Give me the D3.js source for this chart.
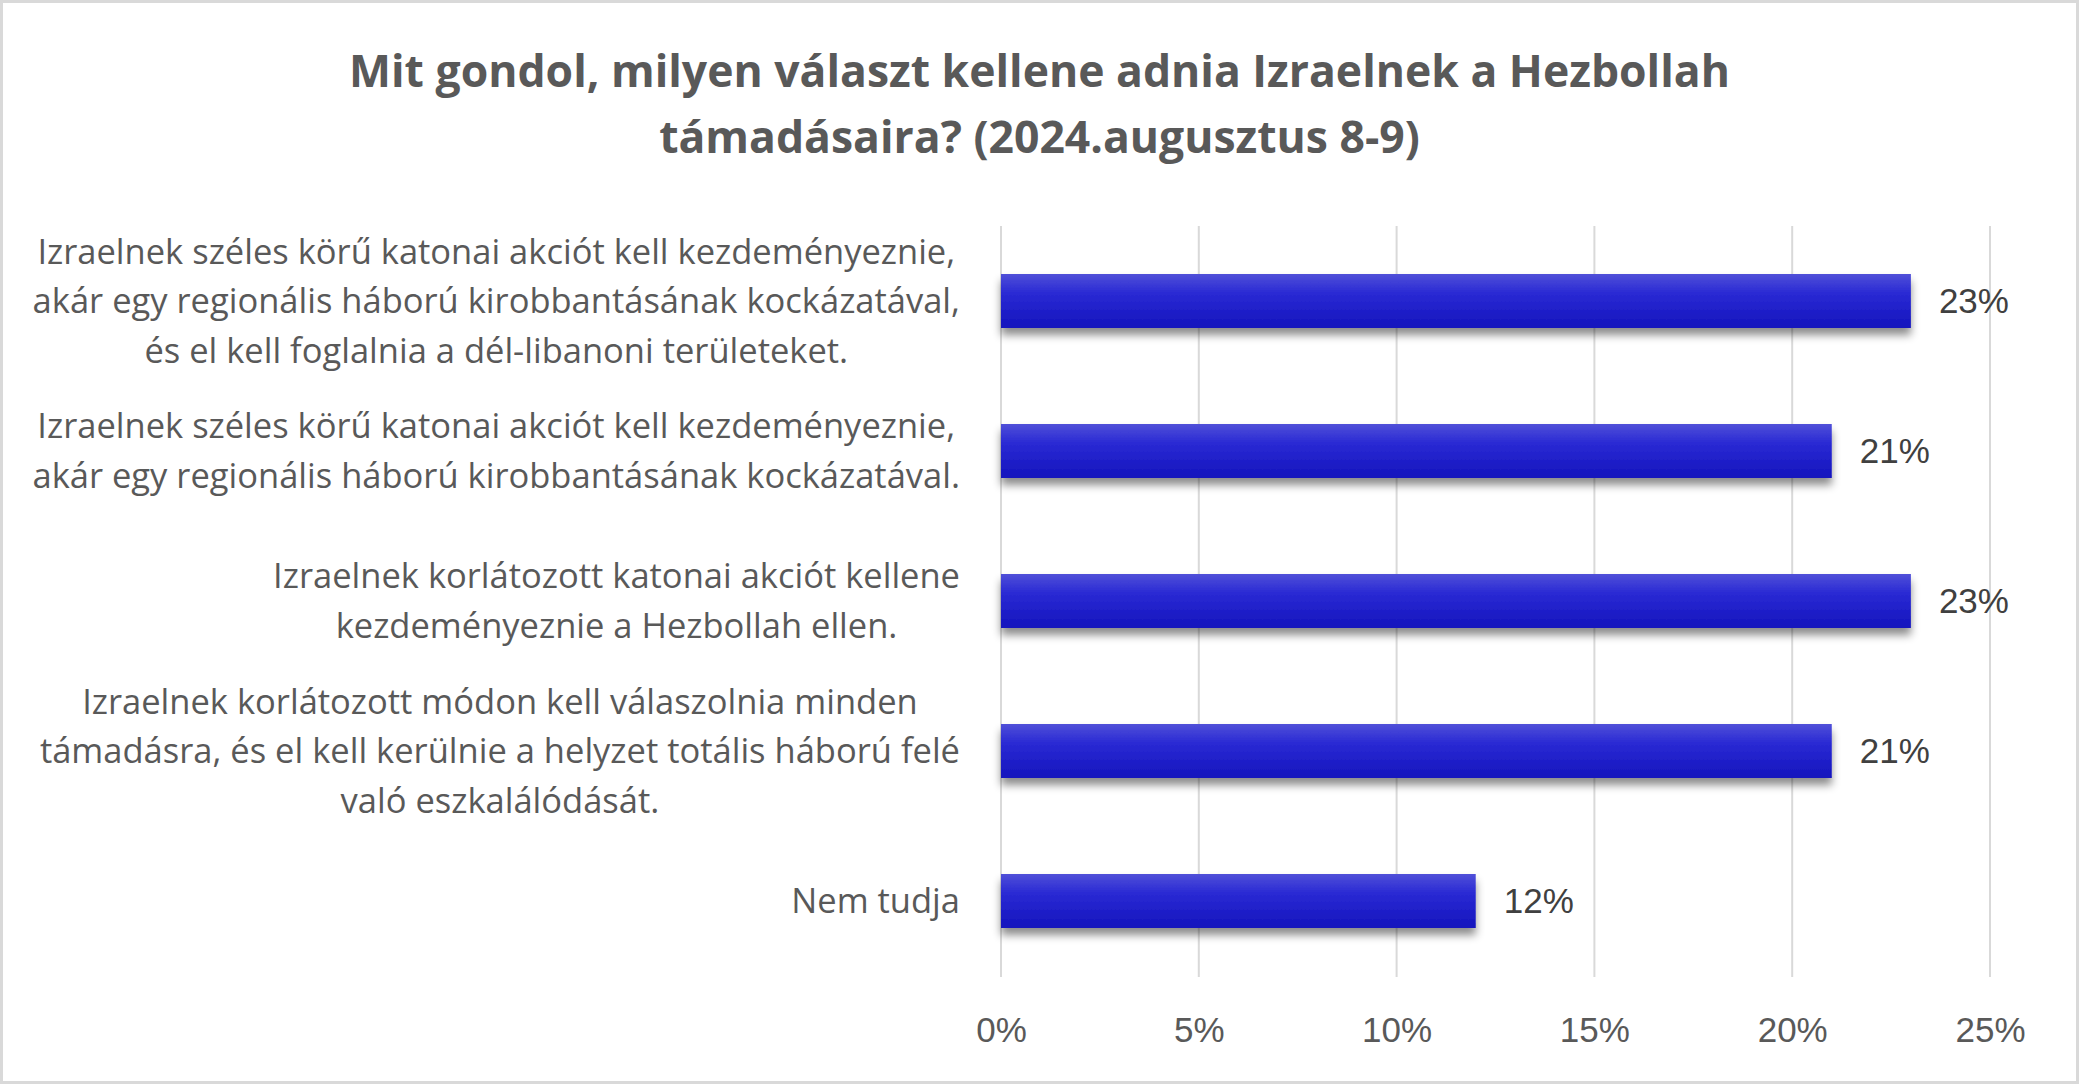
<!DOCTYPE html>
<meta charset="utf-8">
<title>Izrael - Hezbollah</title>
<style>
    body { margin: 0; background: #fff; }
    .title { font-family: "Open Sans", Lato, sans-serif; font-weight: bold; font-size: 44.5px; fill: #595959; text-anchor: middle; }
    .cat { font-family: "Open Sans", Lato, sans-serif; font-size: 34.5px; fill: #595959; }
    .tick text { font-family: "Liberation Sans", Arial, sans-serif; font-size: 35px; fill: #595959; }
    .val { font-family: "Liberation Sans", Arial, sans-serif; font-size: 35px; fill: #404040; }
</style>

<body>
    <script src="https://d3js.org/d3.v7.min.js" charset="utf-8"></script>
    <script>
        // data
        var titleLines = [
            "Mit gondol, milyen választ kellene adnia Izraelnek a Hezbollah",
            "támadásaira? (2024.augusztus 8-9)"
        ];
        var categories = [
            ["Izraelnek széles körű katonai akciót kell kezdeményeznie,",
             "akár egy regionális háború kirobbantásának kockázatával,",
             "és el kell foglalnia a dél-libanoni területeket."],
            ["Izraelnek széles körű katonai akciót kell kezdeményeznie,",
             "akár egy regionális háború kirobbantásának kockázatával."],
            ["Izraelnek korlátozott katonai akciót kellene",
             "kezdeményeznie a Hezbollah ellen."],
            ["Izraelnek korlátozott módon kell válaszolnia minden",
             "támadásra, és el kell kerülnie a helyzet totális háború felé",
             "való eszkalálódását."],
            ["Nem tudja"]
        ];
        var values = [0.23, 0.21, 0.23, 0.21, 0.12];
        var tickValues = [0, 0.05, 0.10, 0.15, 0.20, 0.25];

        // -----------------------

        var width = 2079,
            height = 1084;

        var svg = d3.select("body").append("svg")
            .attr("width", width)
            .attr("height", height);

        var defs = svg.append("defs");
        var grad = defs.append("linearGradient")
            .attr("id", "barGrad")
            .attr("x1", 0).attr("y1", 0).attr("x2", 0).attr("y2", 1);
        grad.append("stop").attr("offset", "0%").attr("stop-color", "#5050d8");
        grad.append("stop").attr("offset", "35%").attr("stop-color", "#2a2ad4");
        grad.append("stop").attr("offset", "100%").attr("stop-color", "#1414bd");

        var shadow = defs.append("filter")
            .attr("id", "shadow")
            .attr("x", "-10%").attr("y", "-30%")
            .attr("width", "120%").attr("height", "180%");
        shadow.append("feDropShadow")
            .attr("dx", 0).attr("dy", 7)
            .attr("stdDeviation", 4)
            .attr("flood-color", "#000")
            .attr("flood-opacity", 0.45);

        // chart border
        svg.append("rect")
            .attr("x", 1.5).attr("y", 1.5)
            .attr("width", width - 3).attr("height", height - 3)
            .style("fill", "#fff")
            .style("stroke", "#d9d9d9")
            .style("stroke-width", 3);

        svg.selectAll("text.title")
            .data(titleLines)
            .enter().append("text")
            .attr("class", "title")
            .attr("x", width / 2)
            .attr("y", function (d, i) { return 87 + i * 66; })
            .text(function (d) { return d; });

        var x = d3.scaleLinear()
            .domain([0, 0.25])
            .range([1001, 1990]);

        var y = d3.scaleBand()
            .domain(d3.range(categories.length))
            .range([226, 976])
            .paddingInner(0.64)
            .paddingOuter(0.32);

        // gridlines
        svg.append("g")
            .selectAll("line")
            .data(tickValues)
            .enter().append("line")
            .attr("x1", function (d) { return x(d); })
            .attr("x2", function (d) { return x(d); })
            .attr("y1", 226)
            .attr("y2", 977)
            .style("stroke", "#d9d9d9")
            .style("stroke-width", 2);

        // x axis labels
        var xAxis = d3.axisBottom(x)
            .tickValues(tickValues)
            .tickFormat(d3.format(".0%"))
            .tickSize(0)
            .tickPadding(0);

        var gx = svg.append("g")
            .attr("transform", "translate(0,1017)")
            .call(xAxis);
        gx.select(".domain").remove();
        gx.selectAll(".tick text").attr("dy", "0.71em").attr("fill", null);

        // bars
        svg.append("g")
            .selectAll("rect")
            .data(values)
            .enter().append("rect")
            .attr("x", x(0))
            .attr("y", function (d, i) { return y(i); })
            .attr("width", function (d) { return x(d) - x(0); })
            .attr("height", y.bandwidth())
            .style("fill", "url(#barGrad)")
            .style("filter", "url(#shadow)");

        // value labels
        svg.append("g")
            .selectAll("text")
            .data(values)
            .enter().append("text")
            .attr("class", "val")
            .attr("x", function (d) { return x(d) + 28; })
            .attr("y", function (d, i) { return y(i) + y.bandwidth() / 2; })
            .attr("dy", "0.35em")
            .text(d3.format(".0%"));

        // category labels: block right aligned, lines centred in the block
        var lineH = 49.5,
            labelRight = 960;
        categories.forEach(function (lines, i) {
            var cy = y(i) + y.bandwidth() / 2;
            var g = svg.append("g");
            var t = g.selectAll("text")
                .data(lines)
                .enter().append("text")
                .attr("class", "cat")
                .attr("text-anchor", "middle")
                .attr("y", function (d, j) { return cy + (j - (lines.length - 1) / 2) * lineH; })
                .attr("dy", "0.35em")
                .text(function (d) { return d; });
            var maxW = d3.max(t.nodes(), function (n) { return n.getComputedTextLength(); });
            t.attr("x", labelRight - maxW / 2);
        });
    </script>
